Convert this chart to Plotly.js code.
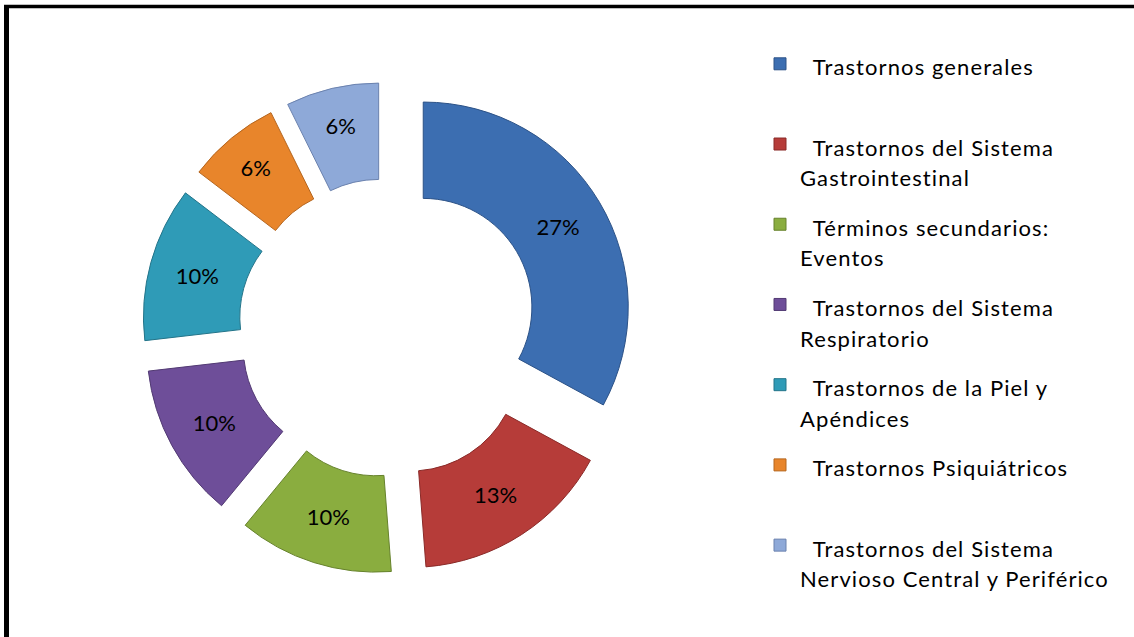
<!DOCTYPE html>
<html>
<head>
<meta charset="utf-8">
<script src="https://cdn.plot.ly/plotly-3.0.1.min.js"></script>
<style>
html,body{margin:0;padding:0;background:#fff;}
#chart{width:1134px;height:637px;}
</style>
</head>
<body>
<div id="chart"></div>
<script>
// Data
const categories = [
  "Trastornos generales",
  "Trastornos del Sistema<br>Gastrointestinal",
  "Términos secundarios:<br>Eventos",
  "Trastornos del Sistema<br>Respiratorio",
  "Trastornos de la Piel y<br>Apéndices",
  "Trastornos Psiquiátricos",
  "Trastornos del Sistema<br>Nervioso Central y Periférico"
];
const values = [27, 13, 10, 10, 10, 6, 6];
const colors = ["#3C6EB1", "#B63C39", "#8AAD3F", "#6E4E99", "#2F9BB7", "#E8852B", "#8EA9D8"];
const lineColors = ["#2C5287", "#8A2A28", "#66822C", "#523A73", "#237489", "#B5661F", "#6B82AE"];

// legend text: indent first line, force two lines per entry
const span1 = "<span style='font-size:22px;letter-spacing:1.1px'>";
const span2 = "<span style='font-size:22px;letter-spacing:1.1px;baseline-shift:8px'>";
const legendLabels = categories.map(c => {
  const parts = c.split("<br>");
  if (parts.length === 1) parts.push("\u00a0");
  return span1 + "\u00a0\u00a0" + parts[0] + "</span><br>" + span2 + parts[1] + "</span>";
});

const trace = {
  type: "pie",
  values: values,
  labels: legendLabels,
  marker: {colors: colors, line: {color: lineColors, width: 1}},
  hole: 0.53,
  pull: 0.2,
  sort: false,
  direction: "clockwise",
  rotation: 0,
  texttemplate: "%{value}%",
  textposition: "inside",
  insidetextorientation: "horizontal",
  insidetextfont: {family: "Lato, sans-serif", size: 22, color: "#000"},
  hoverinfo: "none",
  domain: {x: [142/1134, 634/1134], y: [63/637, 555/637]}
};

const layout = {
  width: 1134, height: 637,
  margin: {l: 0, r: 0, t: 0, b: 0},
  paper_bgcolor: "#fff",
  showlegend: true,
  legend: {
    x: 760/1134, y: 1 - 38/637, xanchor: "left", yanchor: "top",
    valign: "top",
    font: {family: "Lato, sans-serif", size: 29.7, color: "#000"},
    bgcolor: "rgba(0,0,0,0)"
  },
  shapes: [
    {type: "line", xref: "paper", yref: "paper", x0: 6.5/1134, x1: 6.5/1134, y0: 0, y1: 1 - 5/637, line: {color: "#000", width: 5}},
    {type: "line", xref: "paper", yref: "paper", x0: 4/1134, x1: 1, y0: 1 - 6.5/637, y1: 1 - 6.5/637, line: {color: "#000", width: 3.5}}
  ]
};

Plotly.newPlot("chart", [trace], layout, {displayModeBar: false, staticPlot: true});
</script>
</body>
</html>
